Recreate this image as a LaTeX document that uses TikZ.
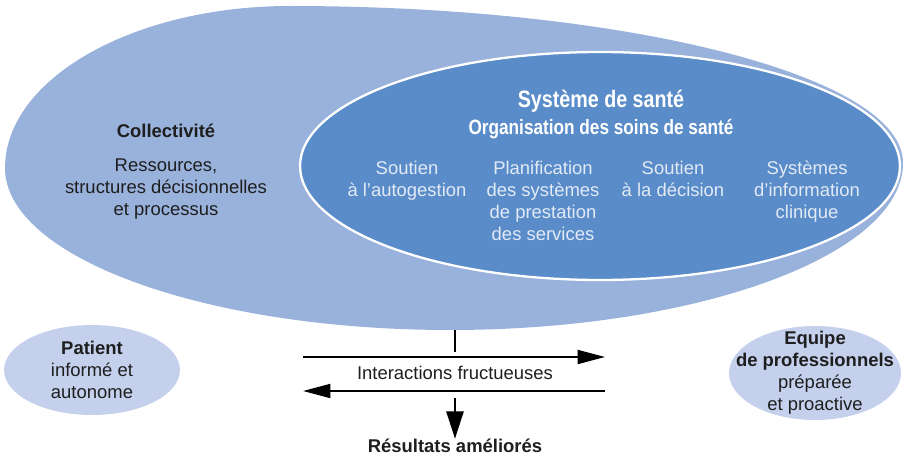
\documentclass[tikz,border=0pt]{standalone}
\usepackage{fontspec}
\setmainfont{Liberation Sans}
\newfontfamily\condfont[FakeStretch=0.83]{Liberation Sans}
\usetikzlibrary{positioning,calc}
\usetikzlibrary{arrows.meta,shapes.geometric}
\definecolor{CommBlue}{RGB}{153,178,220}
\definecolor{SysBlue}{RGB}{89,140,200}
\definecolor{PartBlue}{RGB}{196,208,236}
\definecolor{InkGray}{RGB}{30,30,30}
\definecolor{PaleText}{RGB}{226,234,246}
\tikzset{
  body/.style={font=\fontsize{10.5}{12.5}\selectfont,text=InkGray,align=center,inner sep=0pt},
  head/.style={body,font=\fontsize{10.5}{12.5}\selectfont\bfseries},
  col/.style={body,text=PaleText,anchor=north},
  partner/.style={ellipse,fill=PartBlue,inner sep=0pt},
  flow/.style={draw=black,line width=1.2pt,-{Triangle[length=0.55cm,width=0.28cm]}},
}
\begin{document}
\begin{tikzpicture}[x=0.02cm,y=0.02cm]
\useasboundingbox (0,0) rectangle (906,457);
% community
\fill[CommBlue] (5,289) .. controls (5,378) and (133,451) .. (290,451)
  .. controls (627,451) and (903,381) .. (903,294)
  .. controls (903,202) and (698,127) .. (450,127)
  .. controls (204,127) and (5,200) .. cycle;
% health system
\node[ellipse,fill=SysBlue,draw=white,line width=1.3pt,inner sep=0pt,
  minimum width=12cm,minimum height=4.56cm] (sys) at (600,291) {};
\node[head] (comm) at (166,326) {Collectivit\'e};
\node[body] (res) at (166,268) {Ressources,\\structures d\'ecisionnelles\\et processus};
\node[body,text=white,font=\condfont\fontsize{13.5}{15}\selectfont\bfseries] (systitle) at (601,356) {Syst\`eme de sant\'e};
\node[body,text=white,font=\condfont\fontsize{11.8}{14}\selectfont\bfseries] (org) at (601,328) {Organisation des soins de sant\'e};
\node[col] (auto) at (407,296) {Soutien\\\`a l'autogestion};
\node[col] (plan) at (543,296) {Planification\\des syst\`emes\\de prestation\\des services};
\node[col] (dec) at (673,296) {Soutien\\\`a la d\'ecision};
\node[col] (info) at (807,296) {Syst\`emes\\d'information\\clinique};
% partners
\node[partner,minimum width=3.52cm,minimum height=1.8cm] (pat) at (92,87) {};
\node[body] (pattext) at (pat) {\textbf{Patient}\\inform\'e et\\autonome};
\node[partner,minimum width=3.44cm,minimum height=1.88cm] (team) at (815,84) {};
\node[body] (teamtext) at (team) {\textbf{Equipe}\\\textbf{de professionnels}\\pr\'epar\'ee\\et proactive};
% interactions
\node[body] (inter) at (455,84) {Interactions fructueuses};
\node[head] (out) at (455,11) {R\'esultats am\'elior\'es};
\coordinate (top) at (455,127);
\coordinate (stem) at (455,105);
\coordinate (r0) at (303,100);
\coordinate (r1) at (605,100);
\coordinate (l0) at (605,66);
\coordinate (l1) at (303,66);
\coordinate (d0) at (455,59);
\draw[line width=1.2pt] (top) -- (stem);
\draw[flow] (r0) -- (r1);
\draw[flow] (l0) -- (l1);
\draw[flow,line width=1.6pt,-{Triangle[length=0.55cm,width=0.34cm]}] (d0) -- (out.north);
\end{tikzpicture}
\end{document}
